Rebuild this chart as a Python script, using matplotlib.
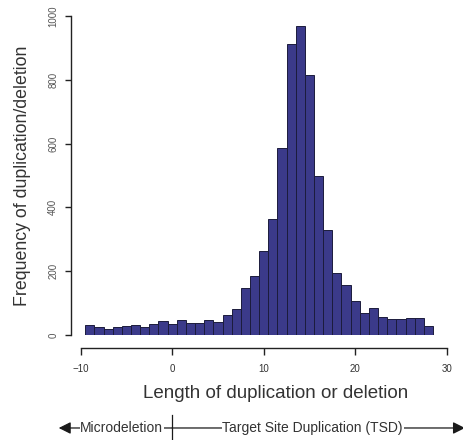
import numpy as np
import matplotlib
matplotlib.use('Agg')
import matplotlib.pyplot as plt
import matplotlib.transforms as mtransforms

# bin centres (length) and counts
lengths = list(range(-9, 29))
counts = [32, 24, 20, 25, 29, 31, 26, 35, 43, 34,
          48, 38, 39, 46, 40, 63, 81, 148, 186, 264,
          363, 585, 911, 970, 816, 499, 330, 193, 158, 107,
          68, 84, 55, 49, 49, 52, 52, 29]

x_ticks = [-10, 0, 10, 20, 30]
y_ticks = [0, 200, 400, 600, 800, 1000]

plt.rcParams['font.family'] = ['Liberation Sans', 'DejaVu Sans']

fig = plt.figure(figsize=(4.64, 4.40), dpi=100)
ax = fig.add_axes([0.1739, 0.2386, 0.7888, 0.725])

ax.bar(lengths, counts, width=1.0, color='#3b3a8a', edgecolor='#1c1c3c', linewidth=0.7)

ax.set_xlim(-10, 30)
ax.set_ylim(0, 1000)

# R-style detached axes
for side in ['top', 'right']:
    ax.spines[side].set_visible(False)
ax.spines['left'].set_position(('outward', 7.2))
ax.spines['bottom'].set_position(('outward', 9.6))
ax.spines['left'].set_bounds(0, 1000)
ax.spines['bottom'].set_bounds(-10, 30)
for side in ['left', 'bottom']:
    ax.spines[side].set_color('#222222')
    ax.spines[side].set_linewidth(1.0)

ax.set_xticks(x_ticks)
ax.set_yticks(y_ticks)
ax.set_xticklabels(['\u221210', '0', '10', '20', '30'])
ax.set_yticklabels([str(v) for v in y_ticks], rotation=90, va='center')
ax.tick_params(axis='y', length=4, width=1.0, color='#222222', pad=5,
               labelsize=7, labelcolor='#555555')
ax.tick_params(axis='x', length=5, width=1.0, color='#222222', pad=6,
               labelsize=7, labelcolor='#333333')

ax.text(-0.160, 0.5, 'Frequency of duplication/deletion', transform=ax.transAxes,
        rotation=90, ha='center', va='center', fontsize=12.8, color='#333333')
ax.text(0.532, -0.182, 'Length of duplication or deletion', transform=ax.transAxes,
        ha='center', va='center', fontsize=13.5, color='#333333')

# bottom annotation: microdeletion vs TSD
trans = mtransforms.blended_transform_factory(ax.transData, fig.transFigure)
y_ann = 0.0273
arrow_kw = dict(arrowstyle='-|>', mutation_scale=18, color='#1a1a1a', lw=0.9,
                shrinkA=0, shrinkB=0)
ax.annotate('', xy=(-12.4, y_ann), xytext=(0, y_ann), xycoords=trans,
            textcoords=trans, arrowprops=arrow_kw, annotation_clip=False)
ax.annotate('', xy=(32.0, y_ann), xytext=(0, y_ann), xycoords=trans,
            textcoords=trans, arrowprops=arrow_kw, annotation_clip=False)
ax.plot([0, 0], [0.0, 0.0568], transform=trans, color='#1a1a1a', lw=0.9, clip_on=False)

box = dict(facecolor='white', edgecolor='none', pad=0.6)
ax.text(-5.5, y_ann, 'Microdeletion', transform=trans, ha='center', va='center',
        fontsize=10, color='#333333', bbox=box)
ax.text(15.35, y_ann, 'Target Site Duplication (TSD)', transform=trans, ha='center',
        va='center', fontsize=10, color='#333333', bbox=box)

fig.savefig('out.png', dpi=100)
